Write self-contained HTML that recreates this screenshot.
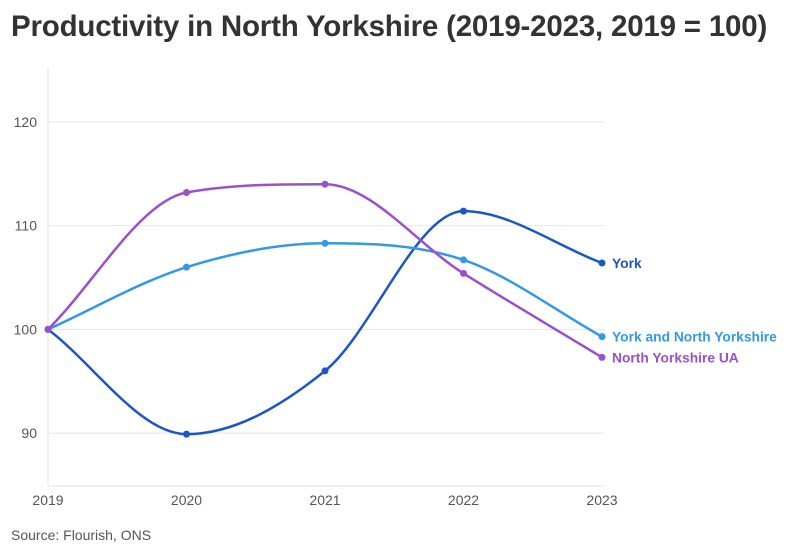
<!DOCTYPE html>
<html><head><meta charset="utf-8"><style>
body{margin:0;background:#fff;font-family:"Liberation Sans",sans-serif;}
#wrap{position:relative;width:794px;height:555px;overflow:hidden;}
h1{position:absolute;left:11px;top:10px;margin:0;font-size:29.5px;font-weight:bold;color:#333;letter-spacing:-0.2px;white-space:nowrap;}
#src{position:absolute;left:11px;top:527px;font-size:14px;color:#555;}
</style></head><body>
<div id="wrap">
<h1>Productivity in North Yorkshire (2019-2023, 2019 = 100)</h1>
<svg id="chart" width="794" height="555" style="position:absolute;left:0;top:0"></svg>
<div id="src">Source: Flourish, ONS</div>
</div>
<script>
const years = [2019, 2020, 2021, 2022, 2023];
const yTicks = [90, 100, 110, 120];
const seriesNames = ["York", "York and North Yorkshire", "North Yorkshire UA"];
const yorkValues = [100, 89.9, 96.0, 111.4, 106.4];
const ynyValues = [100, 106.0, 108.3, 106.7, 99.3];
const nyuaValues = [100, 113.2, 114.0, 105.4, 97.3];

const colors = ["#1a56c9", "#3399e6", "#9b4fcf"];
const svg = document.getElementById('chart');
const NS = "http://www.w3.org/2000/svg";
const plotX0 = 48, plotX1 = 602, yMin = 84.9, yMax = 125.3, plotTop = 67, plotBot = 486;
const xs = i => plotX0 + (plotX1 - plotX0) * i / (years.length - 1);
const ys = v => plotBot - (v - yMin) / (yMax - yMin) * (plotBot - plotTop);
function mk(tag, attrs){const e=document.createElementNS(NS,tag);for(const k in attrs)e.setAttribute(k,attrs[k]);svg.appendChild(e);return e;}

yTicks.forEach(t=>{
  const g = mk('line',{x1:plotX0,x2:605,y1:ys(t),y2:ys(t),stroke:'#e6e6e6','stroke-width':1});
  
  
  const l = mk('text',{x:37,y:ys(t)+5,'text-anchor':'end','font-size':14,fill:'#555','font-family':'Liberation Sans, sans-serif'});
  l.textContent=t;
  
  
});
const ax = mk('line',{x1:plotX0,x2:plotX0,y1:plotTop,y2:plotBot,stroke:'#e3e3e3','stroke-width':1});


const bx = mk('line',{x1:plotX0,x2:605,y1:plotBot,y2:plotBot,stroke:'#e3e3e3','stroke-width':1});


years.forEach((yr,i)=>{
  const l = mk('text',{x:xs(i),y:505,'text-anchor':'middle','font-size':14,fill:'#555','font-family':'Liberation Sans, sans-serif'});
  l.textContent=yr;
  
  
});

function monotonePath(px, py){
  const n=px.length, d=[], m=[];
  for(let i=0;i<n-1;i++) d.push((py[i+1]-py[i])/(px[i+1]-px[i]));
  m[0]=d[0]; m[n-1]=d[n-2];
  for(let i=1;i<n-1;i++){ m[i] = (d[i-1]*d[i]<=0)?0:(d[i-1]+d[i])/2; }
  for(let i=0;i<n-1;i++){ if(d[i]===0){m[i]=0;m[i+1]=0;continue;}
    const a=m[i]/d[i], b=m[i+1]/d[i], s=a*a+b*b;
    if(s>9){const t=3/Math.sqrt(s);m[i]=t*a*d[i];m[i+1]=t*b*d[i];}}
  let p=`M${px[0]},${py[0]}`;
  for(let i=0;i<n-1;i++){const h=(px[i+1]-px[i])/3;
    p+=` C${px[i]+h},${py[i]+m[i]*h} ${px[i+1]-h},${py[i+1]-m[i+1]*h} ${px[i+1]},${py[i+1]}`;}
  return p;
}
const allSeries=[yorkValues, ynyValues, nyuaValues];
allSeries.forEach((vals,si)=>{
  const px=vals.map((v,i)=>xs(i)), py=vals.map(v=>ys(v));
  const path=mk('path',{d:monotonePath(px,py),fill:'none',stroke:colors[si],'stroke-width':2.5});
  
  
  vals.forEach((v,i)=>{
    const c=mk('circle',{cx:xs(i),cy:ys(v),r:3.5,fill:colors[si]});
    
    
  });
  const t=mk('text',{x:plotX1+10,y:ys(vals[vals.length-1])+5,'font-size':13.8,'font-weight':'bold',fill:colors[si],'font-family':'Liberation Sans, sans-serif'});
  t.textContent=seriesNames[si];
  
  
});
</script>
</body></html>
